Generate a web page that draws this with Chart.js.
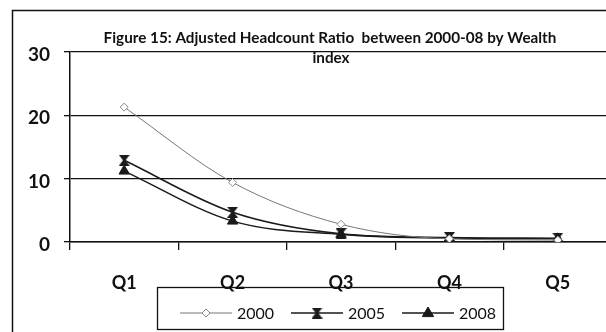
<!DOCTYPE html>
<html>
<head>
<meta charset="utf-8">
<script src="https://cdn.jsdelivr.net/npm/chart.js@4.4.1/dist/chart.umd.min.js"></script>
<style>
  html, body { margin: 0; padding: 0; background: #fff; overflow: hidden; width: 606px; height: 332px; }
  #wrap { width: 620px; height: 340px; position: relative; }
</style>
</head>
<body>
<div id="wrap"><canvas id="c" width="620" height="340"></canvas></div>
<script>
// Wealth quintiles and adjusted headcount ratio per survey year
const quintiles = ['Q1', 'Q2', 'Q3', 'Q4', 'Q5'];
const years = ['2000', '2005', '2008'];
const ratio2000 = [21.3, 9.4, 2.8, 0.5, 0.3];
const ratio2005 = [12.9, 4.7, 1.3, 0.7, 0.6];
const ratio2008 = [11.2, 3.3, 1.2, 0.6, 0.5];
const yTicks = [0, 10, 20, 30];

const titleLines = ['Figure 15: Adjusted Headcount Ratio  between 2000-08 by Wealth', 'index'];

// Hourglass marker used for the 2005 series
function makeHourglass(w, h, color) {
  const cv = document.createElement('canvas');
  cv.width = w; cv.height = h;
  const g = cv.getContext('2d');
  g.fillStyle = color;
  g.beginPath();
  g.moveTo(0, 0); g.lineTo(w, 0); g.lineTo(w * 0.62, h / 2); g.lineTo(w, h); g.lineTo(0, h); g.lineTo(w * 0.38, h / 2); g.closePath();
  g.fill();
  return cv;
}
const hourglass = makeHourglass(11, 11, '#1a1a1a');

function drawMarker(ctx, ds, x, y) {
  const r = ds.pointRadius;
  ctx.save();
  ctx.lineWidth = ds.pointBorderWidth || 1;
  ctx.strokeStyle = ds.pointBorderColor;
  ctx.fillStyle = ds.pointBackgroundColor;
  if (ds.pointStyle === 'rectRot') {
    ctx.beginPath();
    ctx.moveTo(x, y - r); ctx.lineTo(x + r, y); ctx.lineTo(x, y + r); ctx.lineTo(x - r, y); ctx.closePath();
    ctx.fill(); ctx.stroke();
  } else if (ds.pointStyle === 'triangle') {
    ctx.beginPath();
    ctx.moveTo(x, y - r); ctx.lineTo(x + r * 0.95, y + r * 0.6); ctx.lineTo(x - r * 0.95, y + r * 0.6); ctx.closePath();
    ctx.fill(); ctx.stroke();
  } else if (ds.pointStyle instanceof HTMLCanvasElement) {
    const s = ds.pointStyle;
    ctx.drawImage(s, x - s.width / 2, y - s.height / 2);
  }
  ctx.restore();
}

// Frame, title and boxed legend
const decorations = {
  id: 'decorations',
  afterDraw(chart) {
    const ctx = chart.ctx;
    ctx.save();
    // outer frame
    ctx.strokeStyle = '#111';
    ctx.lineWidth = 1.5;
    ctx.strokeRect(12.5, 10.5, 640, 400);

    // title
    ctx.fillStyle = '#111';
    ctx.textAlign = 'center';
    ctx.textBaseline = 'middle';
    ctx.font = 'bold 13px Lato';
    const w = ctx.measureText(titleLines[0]).width;
    const fs = 13 * 453 / w;
    ctx.font = 'bold ' + fs.toFixed(2) + 'px Lato';
    ctx.fillText(titleLines[0], 330, 38);
    ctx.fillText(titleLines[1], 331, 58);

    // legend box
    ctx.lineWidth = 1.3;
    ctx.strokeRect(157.5, 287.5, 346, 42);
    ctx.font = '16px Lato';
    ctx.textAlign = 'left';
    const rowY = 313;
    chart.data.datasets.forEach((ds, i) => {
      const x0 = 180 + i * 111;
      ctx.save();
      ctx.strokeStyle = ds.borderColor;
      ctx.lineWidth = ds.borderWidth;
      ctx.beginPath();
      ctx.moveTo(x0, rowY); ctx.lineTo(x0 + 52, rowY);
      ctx.stroke();
      ctx.restore();
      drawMarker(ctx, ds, x0 + 26, rowY);
      ctx.fillStyle = '#111';
      ctx.fillText(ds.label, x0 + 57, rowY + 1);
    });
    ctx.restore();
  }
};

new Chart(document.getElementById('c'), {
  type: 'line',
  data: {
    labels: quintiles,
    datasets: [
      {
        label: years[0], data: ratio2000,
        borderColor: '#777777', borderWidth: 1,
        pointStyle: 'rectRot', pointRadius: 4, pointBorderWidth: 1,
        pointBorderColor: '#888888', pointBackgroundColor: '#ffffff'
      },
      {
        label: years[1], data: ratio2005,
        borderColor: '#1a1a1a', borderWidth: 1.5,
        pointStyle: hourglass, pointRadius: 5, pointBorderWidth: 1,
        pointBorderColor: '#1a1a1a', pointBackgroundColor: '#1a1a1a'
      },
      {
        label: years[2], data: ratio2008,
        borderColor: '#1a1a1a', borderWidth: 1.5,
        pointStyle: 'triangle', pointRadius: 6, pointBorderWidth: 1,
        pointBorderColor: '#1a1a1a', pointBackgroundColor: '#1a1a1a'
      }
    ]
  },
  options: {
    responsive: false,
    animation: false,
    events: [],
    cubicInterpolationMode: 'monotone',
    layout: { padding: { left: 12, right: 8, top: 52, bottom: 0 } },
    plugins: { legend: { display: false }, title: { display: false }, tooltip: { enabled: false } },
    scales: {
      x: {
        offset: true,
        grid: { offset: true, drawOnChartArea: false, drawTicks: true, tickLength: 8, color: '#111', lineWidth: 1.3 },
        border: { display: true, color: '#111', width: 1.5 },
        ticks: { color: '#111', font: { family: 'Lato', size: 18, weight: 'bold' }, padding: 22 },
        afterFit(s) { s.height = 98; }
      },
      y: {
        min: 0, max: 30,
        afterBuildTicks(s) { s.ticks = yTicks.map(v => ({ value: v })); },
        grid: { color: '#111', lineWidth: 1.3, drawTicks: true, tickLength: 6 },
        border: { display: true, color: '#111', width: 1.5 },
        ticks: { color: '#111', font: { family: 'Lato', size: 19, weight: 'bold' }, padding: 14, labelOffset: 3 },
        afterFit(s) { s.width = 58; }
      }
    }
  },
  plugins: [decorations]
});
</script>
</body>
</html>
